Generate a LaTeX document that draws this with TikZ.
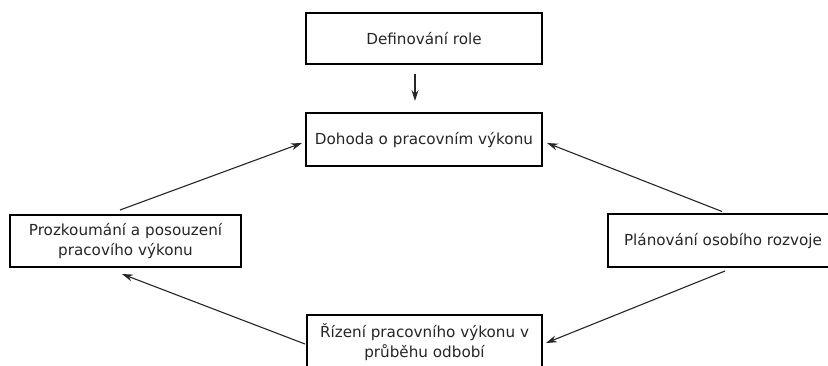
\documentclass[tikz,border=0pt]{standalone}
\usepackage{fontspec}
\setmainfont{DejaVu Sans}
\usetikzlibrary{arrows.meta,calc}
\begin{document}
\begin{tikzpicture}[x=1pt,y=-1pt,
  box/.style={draw=black,line width=2pt,fill=white,inner sep=0pt,align=center,
    font=\fontsize{15.2}{19.5}\selectfont,text=black!85},
  arr/.style={draw=black!85,line width=1.1pt,-{Stealth[length=11pt,width=7pt]}}]
\useasboundingbox (0,0) rectangle (828,365);
\clip (0,0) rectangle (828,365);
\node[box,minimum width=236,minimum height=51] (role) at (424,38.5) {Definování role};
\node[box,minimum width=236,minimum height=53] (dohoda) at (424,139.5) {Dohoda o pracovním výkonu};
\node[box,minimum width=231,minimum height=52] (prozk) at (125.5,241) {Prozkoumání a posouzení\\pracovího výkonu};
\node[box,minimum width=230,minimum height=53] (plan) at (723,240.5) {Plánování osobího rozvoje};
\node[box,minimum width=235,minimum height=54] (rizeni) at (424.5,342) {Řízení pracovního výkonu v\\průběhu odbobí};
\draw[arr] ($(role.south)+(-9,9)$) -- ($(dohoda.north)+(-9,-11)$);
\draw[arr] ($(prozk.north)+(-5.5,-4)$) -- ($(dohoda.west)+(-3,3.5)$);
\draw[arr] ($(plan.north)+(-1,-1.5)$) -- ($(dohoda.east)+(4,3.5)$);
\draw[arr] ($(plan.south)+(2,3)$) -- ($(rizeni.east)+(3,1)$);
\draw[arr] ($(rizeni.west)+(-1,2)$) -- ($(prozk.south)+(-3.5,6)$);
\end{tikzpicture}
\end{document}
